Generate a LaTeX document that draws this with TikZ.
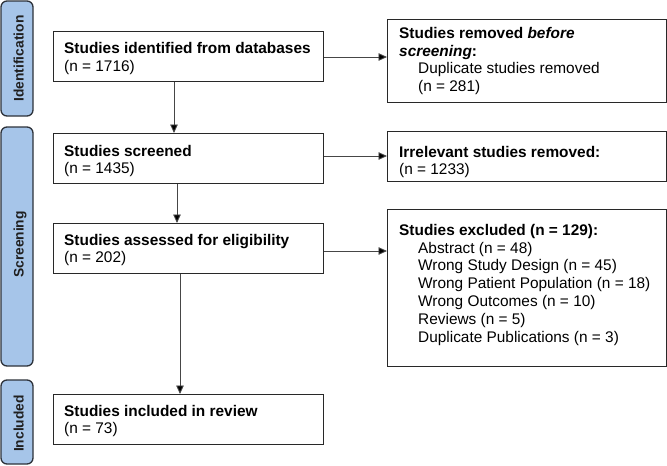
\documentclass[tikz,border=0pt]{standalone}
\usepackage{fontspec}
\setmainfont{Liberation Sans}
\usetikzlibrary{arrows.meta}
\definecolor{sidefill}{RGB}{166,197,233}
\definecolor{sideline}{RGB}{45,50,58}
\definecolor{boxline}{RGB}{40,40,40}
\definecolor{arrline}{RGB}{70,70,70}
\begin{document}
\begin{tikzpicture}[x=1pt,y=-1pt,
  side/.style={draw=sideline, fill=sidefill, line width=1.3pt, rounded corners=6pt},
  sidelabel/.style={rotate=90, anchor=base, font=\fontsize{13.8}{16}\selectfont\bfseries, text=black!88, inner sep=0pt},
  box/.style={draw=boxline, line width=1.4pt, inner sep=0pt, anchor=north west, fill=white},
  lbox/.style={box, minimum width=270pt, minimum height=50pt},
  rbox/.style={box, minimum width=279pt},
  txt/.style={anchor=base west, inner sep=0pt, font=\fontsize{15.4}{18}\selectfont, text=black},
  hd/.style={txt, font=\fontsize{15.4}{18}\selectfont\bfseries},
  arr/.style={draw=arrline, line width=0.9pt, -{Triangle[length=8.5pt,width=7.5pt,fill=black]}}
]
\useasboundingbox (0,0) rectangle (667,466);

% side bars
\draw[side] (1,1) rectangle (33,116);
\draw[side] (1,127) rectangle (33,366);
\draw[side] (1,380) rectangle (33,464);
\node[sidelabel] (lid) at (23.5,58.5) {Identification};
\node[sidelabel] (lsc) at (23.5,244.5) {Screening};
\node[sidelabel] (lin) at (23.5,423.5) {Included};

% left boxes
\node[lbox] (b1) at (53,31) {};
\node[lbox] (b2) at (53,133) {};
\node[lbox] (b3) at (53,223) {};
\node[lbox] (b4) at (53,394) {};

\node[hd] (t1a) at (64,53.3) {Studies identified from databases};
\node[txt] (t1b) at (64,71) {(n = 1716)};
\node[hd] (t2a) at (64,156) {Studies screened};
\node[txt] (t2b) at (64,173.5) {(n = 1435)};
\node[hd] (t3a) at (64,245) {Studies assessed for eligibility};
\node[txt] (t3b) at (64,262.5) {(n = 202)};
\node[hd] (t4a) at (64,416) {Studies included in review};
\node[txt] (t4b) at (64,433.5) {(n = 73)};

% right boxes
\node[rbox, minimum height=83pt] (r1) at (387,19) {};
\node[rbox, minimum height=50pt] (r2) at (387,131) {};
\node[rbox, minimum height=157pt] (r3) at (387,209) {};

\node[hd] (s1a) at (399,38) {Studies removed \textit{before}};
\node[hd] (s1b) at (399,56) {\textit{screening}:};
\node[txt] (s1c) at (418,73.5) {Duplicate studies removed};
\node[txt] (s1d) at (418,91) {(n = 281)};

\node[hd] (s2a) at (399,157) {Irrelevant studies removed:};
\node[txt] (s2b) at (399,174.5) {(n = 1233)};

\node[hd] (s3a) at (399,235.5) {Studies excluded (n = 129):};
\node[txt] (s3b) at (418,253) {Abstract (n = 48)};
\node[txt] (s3c) at (418,270.8) {Wrong Study Design (n = 45)};
\node[txt] (s3d) at (418,288.6) {Wrong Patient Population (n = 18)};
\node[txt] (s3e) at (418,306.4) {Wrong Outcomes (n = 10)};
\node[txt] (s3f) at (418,324.2) {Reviews (n = 5)};
\node[txt] (s3g) at (418,342) {Duplicate Publications (n = 3)};

% connector guides
\coordinate (v1) at (174,0);
\coordinate (v2) at (177,0);
\coordinate (v3) at (180,0);
\coordinate (h1) at (0,57);
\coordinate (h2) at (0,156);
\coordinate (h3) at (0,251);

\draw[arr] (b1.south -| v1) -- (b2.north -| v1);
\draw[arr] (b2.south -| v2) -- (b3.north -| v2);
\draw[arr] (b3.south -| v3) -- (b4.north -| v3);
\draw[arr] (b1.east |- h1) -- (r1.west |- h1);
\draw[arr] (b2.east |- h2) -- (r2.west |- h2);
\draw[arr] (b3.east |- h3) -- (r3.west |- h3);
\end{tikzpicture}
\end{document}
